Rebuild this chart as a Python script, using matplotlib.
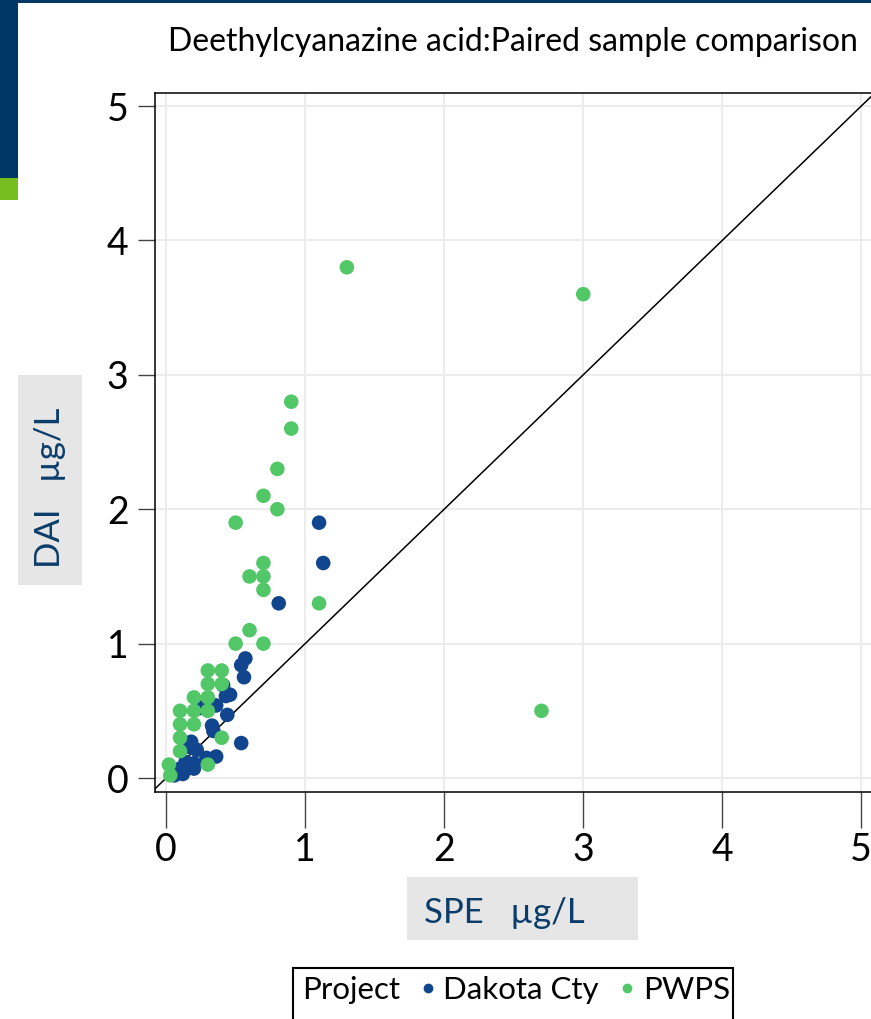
import matplotlib
matplotlib.use("Agg")
import matplotlib.pyplot as plt
from matplotlib.lines import Line2D
from matplotlib.patches import Rectangle

plt.rcParams["font.family"] = ["Lato", "DejaVu Sans"]

# Dakota Cty samples (SPE, DAI) in ug/L
dakota_spe = [1.10, 1.13, 0.81, 0.57, 0.54, 0.56, 0.41, 0.46, 0.43, 0.36, 0.27, 0.24,
              0.44, 0.33, 0.34, 0.54, 0.18, 0.17, 0.22, 0.36, 0.29, 0.20, 0.20,
              0.12, 0.06, 0.10, 0.14]
dakota_dai = [1.90, 1.60, 1.30, 0.89, 0.84, 0.75, 0.69, 0.62, 0.61, 0.54, 0.53, 0.52,
              0.47, 0.39, 0.35, 0.26, 0.27, 0.23, 0.21, 0.16, 0.15, 0.11, 0.07,
              0.03, 0.02, 0.07, 0.12]

# PWPS samples
pwps_spe = [1.30, 3.00, 2.70, 0.90, 0.90, 0.80, 0.70, 0.80, 0.50, 0.70, 0.70, 0.60,
            0.70, 1.10, 0.60, 0.50, 0.70, 0.30, 0.40, 0.30, 0.40, 0.20, 0.30,
            0.10, 0.20, 0.30, 0.10, 0.20, 0.40, 0.10, 0.10, 0.30, 0.02, 0.03]
pwps_dai = [3.80, 3.60, 0.50, 2.80, 2.60, 2.30, 2.10, 2.00, 1.90, 1.60, 1.50, 1.50,
            1.40, 1.30, 1.10, 1.00, 1.00, 0.80, 0.80, 0.70, 0.70, 0.60, 0.60,
            0.50, 0.50, 0.50, 0.40, 0.40, 0.30, 0.30, 0.20, 0.10, 0.10, 0.02]

ticks = [0, 1, 2, 3, 4, 5]

blue = "#11468f"
green = "#52c768"
navy = "#003865"
label_col = "#0b3d6b"

W, H = 871, 1019
fig = plt.figure(figsize=(W / 100, H / 100), dpi=100)

# page decoration
fig.patches.append(Rectangle((0, 1 - 3 / H), 1, 3 / H, transform=fig.transFigure,
                             facecolor=navy, edgecolor="none"))
fig.patches.append(Rectangle((0, 1 - 178 / H), 18 / W, 178 / H, transform=fig.transFigure,
                             facecolor=navy, edgecolor="none"))
fig.patches.append(Rectangle((0, 1 - 200 / H), 18 / W, 22 / H, transform=fig.transFigure,
                             facecolor="#78be20", edgecolor="none"))

ax = fig.add_axes([155 / W, 1 - 792 / H, 1 - 155 / W, (792 - 93) / H])
ax.set_xlim(-0.08, 5.07)
ax.set_ylim(-0.104, 5.097)

ax.grid(True, color="#ebebeb", linewidth=1.3)
ax.set_axisbelow(True)
ax.axline((0, 0), slope=1, color="black", linewidth=1.1, zorder=2)

ax.scatter(dakota_spe, dakota_dai, s=110, color=blue, edgecolors="none", zorder=3)
ax.scatter(pwps_spe, pwps_dai, s=110, color=green, edgecolors="none", zorder=3)

ax.set_xticks(ticks)
ax.set_yticks(ticks)
ax.tick_params(axis="x", length=26, width=1.0, color="#444444", pad=3, labelsize=27)
ax.tick_params(axis="y", length=12, width=1.0, color="#444444", pad=7, labelsize=27)
ax.spines["right"].set_visible(False)
for s in ["left", "bottom", "top"]:
    ax.spines[s].set_linewidth(1.1)

fig.text(513 / W, 1 - 51 / H, "Deethylcyanazine acid:Paired sample comparison",
         ha="center", va="baseline", fontsize=23, color="black")

# axis label boxes
fig.patches.append(Rectangle((407 / W, 1 - 940 / H), 231 / W, 63 / H,
                             transform=fig.transFigure, facecolor="#e6e6e6", edgecolor="none"))
fig.text(424 / W, 1 - 923 / H, "SPE   µg/L", ha="left", va="baseline",
         fontsize=25, color=label_col)
fig.patches.append(Rectangle((18 / W, 1 - 585 / H), 64 / W, 210 / H,
                             transform=fig.transFigure, facecolor="#e6e6e6", edgecolor="none"))
fig.text(50 / W, 1 - 488 / H, "DAI   µg/L", ha="center", va="center", rotation=90,
         fontsize=25, color=label_col)

# legend box, open at the bottom edge of the figure
fig.patches.append(Rectangle((293 / W, -0.01), 440 / W, 0.01 + 51 / H,
                             transform=fig.transFigure, facecolor="white",
                             edgecolor="black", linewidth=1.5))
handles = [
    Line2D([], [], linestyle="none"),
    Line2D([], [], linestyle="none", marker="o", markersize=6, color=blue),
    Line2D([], [], linestyle="none", marker="o", markersize=6, color=green),
]
leg = fig.legend(handles, ["Project", "Dakota Cty", "PWPS"], ncol=3,
                 loc="upper left", bbox_to_anchor=(272 / W, 1 - 968 / H),
                 fontsize=22.5, frameon=False,
                 handlelength=0.4, handletextpad=0.3, columnspacing=0.7,
                 borderpad=0.25, borderaxespad=0)

fig.savefig("out.png", dpi=100)
